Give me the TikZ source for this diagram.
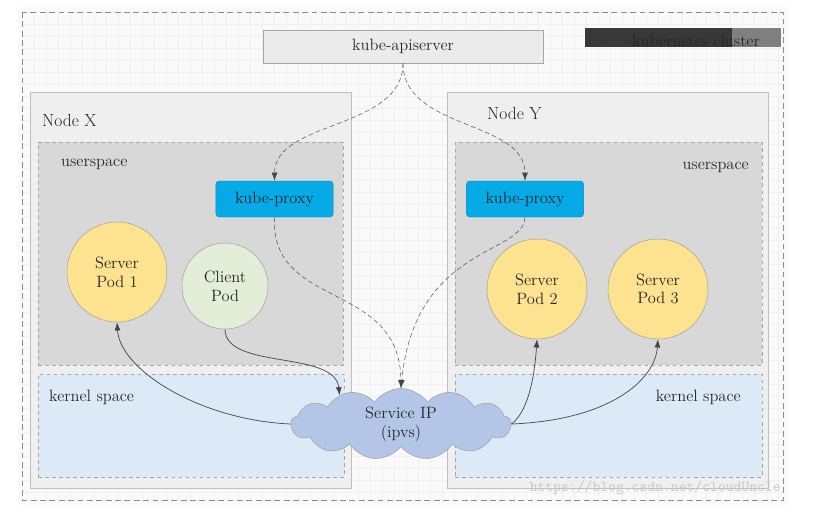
\documentclass[tikz,border=0pt]{standalone}
\usepackage{tikz}
\usetikzlibrary{arrows.meta}
\usetikzlibrary{shapes.symbols}

\definecolor{nodegray}{HTML}{EFEFEF}
\definecolor{usergray}{HTML}{D8D8D8}
\definecolor{kernelblue}{HTML}{DCE9F6}
\definecolor{proxyblue}{HTML}{06AAE6}
\definecolor{podyellow}{HTML}{FDE290}
\definecolor{podgreen}{HTML}{E2EED8}
\definecolor{cloudblue}{HTML}{B3C6E7}
\definecolor{edgegray}{HTML}{9C9C9C}
\definecolor{linegray}{HTML}{454545}

\tikzset{
  txt/.style = {inner sep=0pt, text=black!85,
    font=\fontsize{14}{16}\selectfont},
  host_n/.style = {rectangle, draw=black!25, fill=nodegray, inner sep=0pt,
    minimum width=9.63cm, minimum height=11.88cm},% Node X / Node Y
  user_n/.style = {rectangle, draw=black!35, fill=usergray, dashed,
    inner sep=0pt, minimum height=6.69cm},% userspace
  kernel_n/.style = {rectangle, draw=black!35, fill=kernelblue, dashed,
    inner sep=0pt, minimum height=3.09cm},% kernel space
  api_n/.style = {txt, rectangle, draw=black!35, fill=black!8,
    minimum width=8.4cm, minimum height=0.99cm},
  proxy_n/.style = {txt, rectangle, rounded corners=3pt, draw=proxyblue!80!black,
    fill=proxyblue, minimum width=3.52cm, minimum height=1.08cm},
  pod_n/.style = {txt, circle, align=center, draw=edgegray, fill=podyellow,
    minimum size=3cm},% server pods
  client_n/.style = {pod_n, fill=podgreen, minimum size=2.58cm},
  cloud_n/.style = {txt, cloud, cloud puffs=13, cloud puff arc=110, aspect=3.2,
    align=center, draw=edgegray, fill=cloudblue, inner sep=1pt,
    minimum width=6.6cm, minimum height=2cm},
  watch/.style = {->, dashed, dash pattern=on 4pt off 2.5pt, draw=linegray,
    thin},% kube-apiserver watch
  flow/.style = {->, draw=linegray, semithick},% traffic
}

\begin{document}
\begin{tikzpicture}[>={Latex[length=7pt,width=5pt]}, x=0.03cm, y=-0.03cm]

\useasboundingbox (0,0) rectangle (834,522);
% cluster background
\fill[black!2] (18,7) rectangle (788,505);
\foreach \gx in {34,46,...,778} \draw[black!6] (\gx,12) -- (\gx,500);
\foreach \gy in {24,36,...,496} \draw[black!6] (22,\gy) -- (783,\gy);
\draw[black!45, dashed, dash pattern=on 5pt off 3pt] (22,12) rectangle (783,500);

\node [api_n] (api) at (403,46.5) {kube-apiserver};
\fill[black!78] (585,28) rectangle (732,47);
\fill[black!50] (732,28) rectangle (781,47);
\node [txt, anchor=base] (k8s) at (696,46) {kubernetes cluster};

% Node X
\node [host_n] (hostX) at (190.5,290) {};
\node [user_n, minimum width=9.15cm] (userX) at (190.5,253.5) {};
\node [kernel_n, minimum width=9.18cm] (kernX) at (191,425.5) {};
\node [txt, anchor=west, font=\fontsize{15}{17}\selectfont] (hostXl) at (42,120) {Node X};
\node [txt, anchor=west] (userXl) at (61,164) {userspace};
\node [txt, anchor=west] (kernXl) at (49,397) {kernel space};
\node [proxy_n] (proxyX) at (274.5,199) {kube-proxy};
\node [pod_n] (pod1) at (117,272) {Server\\Pod 1};
\node [client_n] (client) at (225,286) {Client\\Pod};

% Node Y
\node [host_n] (hostY) at (607.5,290) {};
\node [user_n, minimum width=9.21cm] (userY) at (608.5,253.5) {};
\node [kernel_n, minimum width=9.21cm] (kernY) at (608.5,425.5) {};
\node [txt, anchor=west, font=\fontsize{15}{17}\selectfont] (hostYl) at (487,113) {Node Y};
\node [txt, anchor=east] (userYl) at (749,167) {userspace};
\node [txt, anchor=east] (kernYl) at (741,397) {kernel space};
\node [proxy_n] (proxyY) at (525,199) {kube-proxy};
\node [pod_n] (pod2) at (537,289) {Server\\Pod 2};
\node [pod_n] (pod3) at (658,289) {Server\\Pod 3};

\node [cloud_n] (svc) at (401,424) {Service IP\\(ipvs)};

\node [txt, anchor=east, text=black!22, font=\ttfamily\fontsize{13}{15}\selectfont]
  (mark) at (781,488) {https://blog.csdn.net/cloudUncle};

% watch from the apiserver
\draw [watch] (api.south) .. controls (403,130) and (275,120) .. (proxyX.north);
\draw [watch] (api.south) .. controls (403,130) and (525,120) .. (proxyY.north);
% rules into ipvs
\draw [watch] (proxyX.south) .. controls (270,310) and (400,280) .. (svc.north);
\draw [watch] (proxyY.south) .. controls (524,255) and (415,245) .. (svc.north);

% traffic
\draw [flow] (client.south) .. controls (225,370) and (335,350) .. (svc.155);
\draw [flow] (svc.west) .. controls (200,420) and (120,370) .. (pod1.south);
\draw [flow] (svc.east) .. controls (530,410) and (535,370) .. (pod2.south);
\draw [flow] (svc.east) .. controls (610,420) and (655,380) .. (pod3.south);

\end{tikzpicture}
\end{document}
